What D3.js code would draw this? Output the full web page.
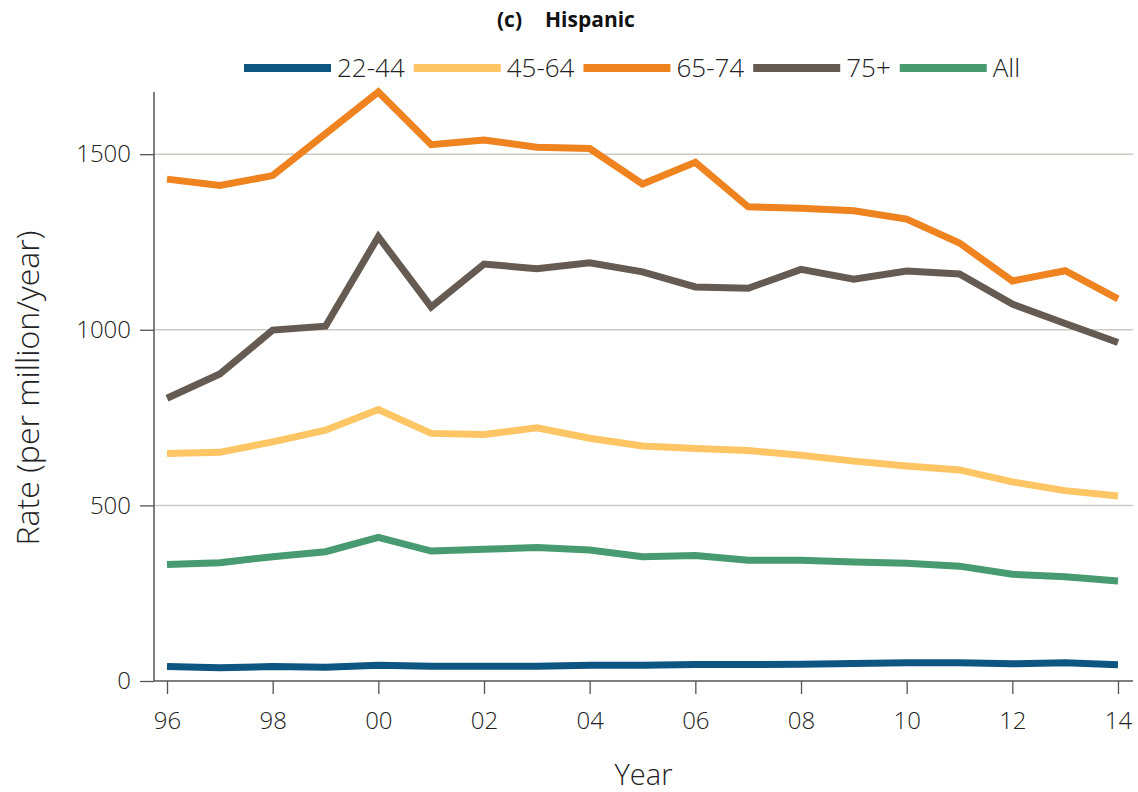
<!DOCTYPE html>
<html>
<head>
<meta charset="utf-8">
<script src="https://cdn.jsdelivr.net/npm/d3@7"></script>
<style>
  html, body { margin: 0; padding: 0; background: #fff; }
  svg { display: block; }
  text { font-family: "Open Sans", "Noto Sans", sans-serif; }
</style>
</head>
<body>
<svg id="chart" width="1138" height="792"></svg>
<script>
// Years covered by the series
const years = d3.range(1996, 2015);

// Incidence rate (per million/year) by age group
const age22to44 = [41, 38, 41, 39, 45, 42, 42, 42, 45, 45, 47, 47, 48, 50, 52, 52, 49, 52, 46];
const age45to64 = [648, 651, 681, 714, 773, 705, 702, 721, 691, 669, 662, 656, 643, 626, 612, 601, 567, 542, 527];
const age65to74 = [1429, 1411, 1439, 1558, 1677, 1527, 1540, 1520, 1516, 1415, 1477, 1350, 1346, 1339, 1315, 1247, 1139, 1168, 1088];
const age75plus = [805, 874, 999, 1010, 1265, 1065, 1187, 1174, 1191, 1165, 1122, 1118, 1172, 1144, 1167, 1159, 1073, 1018, 964];
const allAges   = [332, 337, 354, 368, 409, 370, 375, 380, 373, 354, 357, 344, 344, 339, 335, 327, 304, 297, 285];

const seriesNames  = ["22-44", "45-64", "65-74", "75+", "All"];
const seriesValues = [age22to44, age45to64, age65to74, age75plus, allAges];
const seriesColors = ["#0e5682", "#fec564", "#ee8320", "#655b52", "#489a70"];

const yTicks = [0, 500, 1000, 1500];
const xTicks = d3.range(1996, 2015, 2);

const svg = d3.select("#chart");

// Plot frame
const plotLeft = 154, plotRight = 1133, plotTop = 92, plotBottom = 681;

const x = d3.scaleLinear().domain([1996, 2014]).range([167, 1118]);
const y = d3.scaleLinear().domain([0, 1677]).range([plotBottom, plotTop]);

// Title
svg.append("text").attr("x", 497).attr("y", 27)
  .attr("font-size", 21).attr("font-weight", 700).attr("fill", "#111")
  .text("(c)");
svg.append("text").attr("x", 545).attr("y", 27)
  .attr("font-size", 21).attr("font-weight", 700).attr("fill", "#111")
  .text("Hispanic");

// Horizontal gridlines
svg.append("g").selectAll("line")
  .data(yTicks.filter(d => d > 0))
  .join("line")
  .attr("x1", plotLeft).attr("x2", plotRight)
  .attr("y1", d => y(d)).attr("y2", d => y(d))
  .attr("stroke", "#cdc9c4").attr("stroke-width", 1.5);

// Y axis
const yAxis = svg.append("g")
  .attr("transform", `translate(${plotLeft},0)`)
  .call(d3.axisLeft(y).tickValues(yTicks).tickFormat(d3.format("d"))
    .tickSize(14).tickPadding(9).tickSizeOuter(0));
yAxis.select(".domain").remove();
yAxis.selectAll(".tick line").attr("stroke", "#555").attr("stroke-width", 1.3);
yAxis.selectAll(".tick text")
  .attr("font-size", 24).attr("font-weight", 300).attr("fill", "#222")
  .attr("font-family", "'Open Sans', 'Noto Sans', sans-serif");
svg.append("line")
  .attr("x1", plotLeft).attr("x2", plotLeft)
  .attr("y1", plotTop).attr("y2", plotBottom)
  .attr("stroke", "#555").attr("stroke-width", 1.5);

// X axis
const xAxis = svg.append("g")
  .attr("transform", `translate(0,${plotBottom})`)
  .call(d3.axisBottom(x).tickValues(xTicks).tickSize(13).tickPadding(18)
    .tickFormat(d => String(d % 100).padStart(2, "0")));
xAxis.select(".domain").remove();
xAxis.selectAll(".tick line").attr("stroke", "#555").attr("stroke-width", 1.3);
xAxis.selectAll(".tick text")
  .attr("font-size", 24).attr("font-weight", 300).attr("fill", "#222")
  .attr("font-family", "'Open Sans', 'Noto Sans', sans-serif");
svg.append("line")
  .attr("x1", plotLeft).attr("x2", plotRight)
  .attr("y1", plotBottom).attr("y2", plotBottom)
  .attr("stroke", "#555").attr("stroke-width", 1.5);

// Axis titles
svg.append("text")
  .attr("x", (plotLeft + plotRight) / 2).attr("y", 785)
  .attr("text-anchor", "middle")
  .attr("font-size", 29).attr("font-weight", 300).attr("fill", "#222")
  .text("Year");
svg.append("text")
  .attr("transform", "translate(39,388) rotate(-90)")
  .attr("text-anchor", "middle")
  .attr("font-size", 32).attr("font-weight", 300).attr("fill", "#222")
  .text("Rate (per million/year)");

// Series lines
const line = d3.line()
  .x((d, i) => x(years[i]))
  .y(d => y(d));

svg.append("g").selectAll("path")
  .data(seriesValues)
  .join("path")
  .attr("d", line)
  .attr("fill", "none")
  .attr("stroke", (d, i) => seriesColors[i])
  .attr("stroke-width", 7)
  .attr("stroke-linejoin", "miter")
  .attr("stroke-linecap", "butt");

// Legend
const legend = svg.append("g");
let lx = 244;
const ly = 68;
seriesNames.forEach((name, i) => {
  legend.append("line")
    .attr("x1", lx).attr("x2", lx + 87)
    .attr("y1", ly).attr("y2", ly)
    .attr("stroke", seriesColors[i]).attr("stroke-width", 8);
  const t = legend.append("text")
    .attr("x", lx + 93).attr("y", 77)
    .attr("font-size", 26).attr("font-weight", 300).attr("fill", "#222")
    .text(name);
  lx += 93 + t.node().getComputedTextLength() + 9;
});
</script>
</body>
</html>
